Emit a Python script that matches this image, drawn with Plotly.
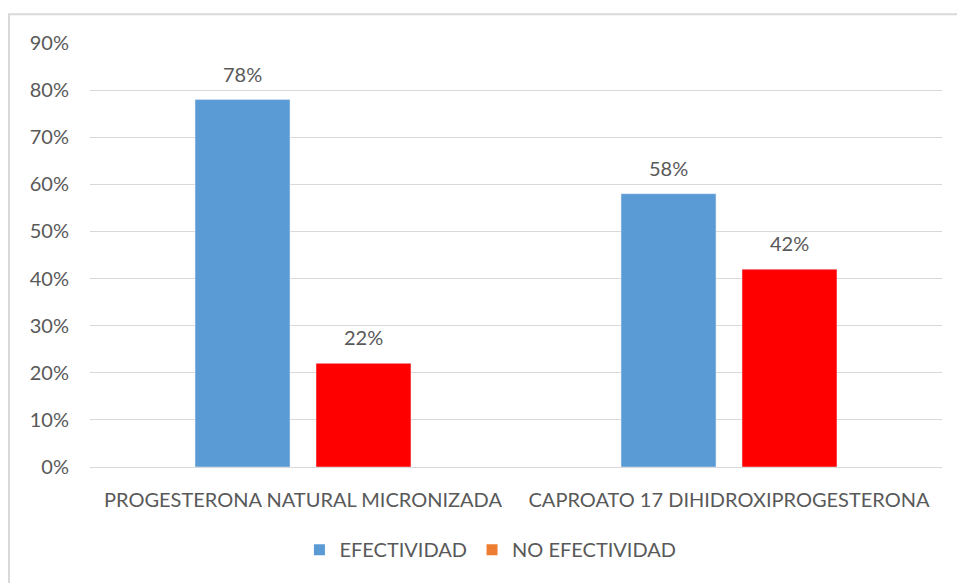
import plotly.graph_objects as go

categories = ["PROGESTERONA NATURAL MICRONIZADA", "CAPROATO 17 DIHIDROXIPROGESTERONA"]
efectividad = [0.78, 0.58]
no_efectividad = [0.22, 0.42]
series_names = ["EFECTIVIDAD", "NO EFECTIVIDAD"]
bar_colors = ["#5B9BD5", "#FF0000"]
legend_colors = ["#5B9BD5", "#ED7D31"]
y_ticks = [0, 0.1, 0.2, 0.3, 0.4, 0.5, 0.6, 0.7, 0.8, 0.9]

font_family = "Lato, Open Sans, sans-serif"
text_color = "#595959"

W, H = 957, 583
ML, MR, MT, MB = 90, 15, 43, 116
BARGAP = 0.432
BARGROUPGAP = 0.215
plot_w = W - ML - MR
slot = plot_w / len(categories) * (1 - BARGAP) / len(series_names)

fig = go.Figure()
annotations = []
for i, (name, vals, col) in enumerate(zip(series_names, [efectividad, no_efectividad], bar_colors)):
    fig.add_trace(go.Bar(x=categories, y=vals, name=name, marker_color=col, showlegend=False))
    shift = (i - (len(series_names) - 1) / 2) * slot
    for c, v in zip(categories, vals):
        annotations.append(dict(x=c, y=v, text=f"{round(v*100)}%", showarrow=False,
                                xshift=shift, yshift=12, yanchor="bottom",
                                font=dict(size=20, color=text_color, family=font_family)))
for name, col in zip(series_names, legend_colors):
    fig.add_trace(go.Scatter(x=[None], y=[None], name=name, mode="markers",
                             marker=dict(symbol="square", size=11, color=col), showlegend=True))

fig.update_layout(
    width=W, height=H,
    margin=dict(l=ML, r=MR, t=MT, b=MB),
    paper_bgcolor="white", plot_bgcolor="white",
    barmode="group", bargap=BARGAP, bargroupgap=BARGROUPGAP,
    font=dict(family=font_family, color=text_color, size=20),
    annotations=annotations,
    legend=dict(orientation="h", x=0.47, xanchor="center", y=-0.195, yanchor="middle",
                font=dict(size=20, color=text_color), itemwidth=30, traceorder="normal"),
    shapes=[dict(type="rect", xref="paper", yref="paper", x0=-0.0951, x1=1.2, y0=-0.4, y1=1.068,
                 line=dict(color="#D9D9D9", width=2), fillcolor="rgba(0,0,0,0)", layer="below")],
)
fig.update_yaxes(range=[0, 0.9], tickvals=y_ticks, tickformat=".0%", showgrid=True,
                 gridcolor="#D9D9D9", gridwidth=1, zeroline=False, showline=False,
                 ticklabelstandoff=20, tickfont=dict(size=20, color=text_color))
fig.update_xaxes(showline=True, linecolor="#D9D9D9", linewidth=1, ticks="",
                 ticklabelstandoff=15, tickfont=dict(size=20, color=text_color))

fig.write_html("out.html")
